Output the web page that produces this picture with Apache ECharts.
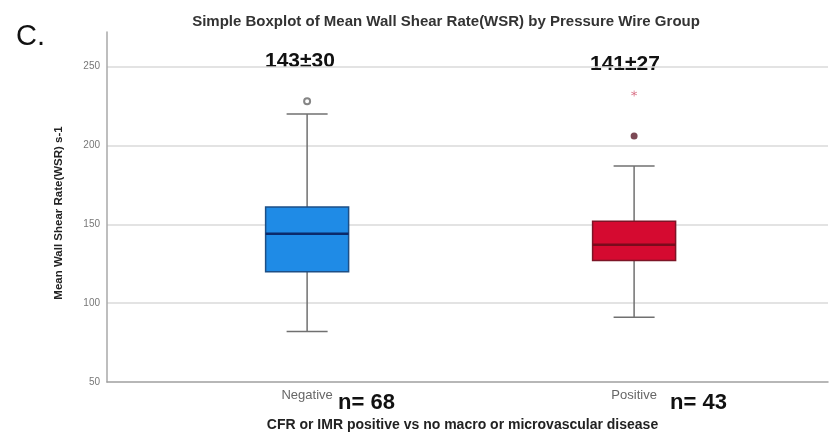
<!DOCTYPE html>
<html>
<head>
<meta charset="utf-8">
<script src="https://cdn.jsdelivr.net/npm/echarts@6/dist/echarts.min.js"></script>
<style>
  html, body { margin: 0; padding: 0; background: #fff; }
  #chart { width: 830px; height: 437px; }
</style>
</head>
<body>
<div id="chart"></div>
<script>
// Groups and five-number summaries (whisker ends, quartiles, median)
var categories = ['Negative', 'Positive'];
var whiskerLow = [82, 91];
var quartile1 = [120, 127];
var medians = [144, 137];
var quartile3 = [161, 152];
var whiskerHigh = [220, 187];

// Points beyond the whiskers: [group index, value]
var outliers = [[0, 228], [1, 206]];
var extremes = [[1, 233]];

// Summary annotations per group
var meanSd = ['143\u00b130', '141\u00b127'];
var groupSizes = ['n= 68', 'n= 43'];

var yTicks = [50, 100, 150, 200, 250];

var FONT = 'Arial, "Liberation Sans", Helvetica, sans-serif';
var BOX_W = 83;
var CAP_W = 41;
var boxColors = [
  { fill: '#1f8be6', stroke: '#1d4f86', median: '#0b2a6a' },
  { fill: '#d50a30', stroke: '#7d1426', median: '#7a0b1c' }
];

var boxData = categories.map(function (c, i) {
  return [i, whiskerLow[i], quartile1[i], medians[i], quartile3[i], whiskerHigh[i]];
});

var chart = echarts.init(document.getElementById('chart'), null, { renderer: 'canvas' });

function renderBox(params, api) {
  var x = api.value(0);
  var lo = api.coord([x, api.value(1)]);
  var q1 = api.coord([x, api.value(2)]);
  var md = api.coord([x, api.value(3)]);
  var q3 = api.coord([x, api.value(4)]);
  var hi = api.coord([x, api.value(5)]);
  var c = boxColors[params.dataIndex];
  var half = BOX_W / 2, capHalf = CAP_W / 2;
  var whisker = { stroke: '#707070', lineWidth: 1.5 };
  return {
    type: 'group',
    children: [
      { type: 'line', shape: { x1: lo[0], y1: lo[1], x2: hi[0], y2: hi[1] }, style: whisker },
      { type: 'line', shape: { x1: lo[0] - capHalf, y1: lo[1], x2: lo[0] + capHalf, y2: lo[1] }, style: whisker },
      { type: 'line', shape: { x1: hi[0] - capHalf, y1: hi[1], x2: hi[0] + capHalf, y2: hi[1] }, style: whisker },
      { type: 'rect', shape: { x: q3[0] - half, y: q3[1], width: BOX_W, height: q1[1] - q3[1] },
        style: { fill: c.fill, stroke: c.stroke, lineWidth: 1.5 } },
      { type: 'line', shape: { x1: md[0] - half, y1: md[1], x2: md[0] + half, y2: md[1] },
        style: { stroke: c.median, lineWidth: 2.5 } }
    ]
  };
}

var asteriskPath = 'path://M-0.5,-5L0.5,-5L0.5,5L-0.5,5Z' +
  'M4.08,-2.93L4.58,-2.07L-4.08,2.93L-4.58,2.07Z' +
  'M4.58,2.07L4.08,2.93L-4.58,-2.07L-4.08,-2.93Z';

var option = {
  backgroundColor: '#fff',
  animation: false,
  title: [
    {
      text: 'Simple Boxplot of Mean Wall Shear Rate(WSR) by Pressure Wire Group',
      left: 441, top: 9, textAlign: 'center',
      textStyle: { fontFamily: FONT, fontSize: 15, fontWeight: 'bold', color: '#333' }
    },
    {
      text: 'C.',
      left: 11, top: 17,
      textStyle: { fontFamily: FONT, fontSize: 29, fontWeight: 'normal', color: '#111' }
    }
  ],
  grid: { left: 107, right: 2, top: 32, bottom: 51 },
  xAxis: {
    type: 'value',
    min: -0.612, max: 1.593,
    name: 'CFR or IMR positive vs no macro or microvascular disease',
    nameLocation: 'middle', nameGap: 36,
    nameTextStyle: { fontFamily: FONT, fontSize: 14, fontWeight: 'bold', color: '#222', padding: [0, 10, 0, 0] },
    axisLine: { onZero: false, lineStyle: { color: '#a0a0a0', width: 1.5 } },
    axisTick: { show: false },
    splitLine: { show: false },
    axisLabel: {
      customValues: [0, 1],
      formatter: function (v) { return categories[Math.round(v)]; },
      fontFamily: FONT, fontSize: 13, color: '#666', margin: 7
    }
  },
  yAxis: {
    type: 'value',
    min: yTicks[0], max: 272, interval: 50,
    name: 'Mean Wall Shear Rate(WSR) s-1',
    nameLocation: 'middle', nameGap: 42,
    nameTextStyle: { fontFamily: FONT, fontSize: 11.5, fontWeight: 'bold', color: '#222', padding: [0, 12, 0, 0] },
    axisLine: { show: true, onZero: false, lineStyle: { color: '#a8a8a8', width: 1.5 } },
    axisTick: { show: false },
    axisLabel: { fontFamily: FONT, fontSize: 10, color: '#777', margin: 7, showMaxLabel: false },
    splitLine: { show: true, showMinLine: false, showMaxLine: false, lineStyle: { color: '#dadada', width: 1.5 } }
  },
  series: [
    {
      type: 'custom',
      renderItem: renderBox,
      data: boxData,
      encode: { x: 0, y: [1, 2, 3, 4, 5] },
      clip: false,
      z: 3
    },
    {
      type: 'scatter',
      data: outliers.filter(function (o) { return o[0] === 0; }),
      symbol: 'emptyCircle',
      symbolSize: 6,
      itemStyle: { color: '#666666', borderWidth: 1.5 },
      z: 4
    },
    {
      type: 'scatter',
      data: outliers.filter(function (o) { return o[0] === 1; }),
      symbol: 'circle',
      symbolSize: 7,
      itemStyle: { color: '#5b1b2b' },
      z: 4
    },
    {
      type: 'scatter',
      data: extremes,
      symbol: asteriskPath,
      symbolSize: 6,
      itemStyle: { color: '#c8304f' },
      z: 4
    }
  ],
  graphic: [
    { type: 'text', left: 265, top: 51, style: { text: meanSd[0], font: 'bold 21px ' + FONT, fill: '#111' } },
    { type: 'text', left: 590, top: 54, style: { text: meanSd[1], font: 'bold 21px ' + FONT, fill: '#111' } },
    { type: 'text', left: 338, top: 392, style: { text: groupSizes[0], font: 'bold 22px ' + FONT, fill: '#111' } },
    { type: 'text', left: 670, top: 392, style: { text: groupSizes[1], font: 'bold 22px ' + FONT, fill: '#111' } }
  ]
};

chart.setOption(option);
</script>
</body>
</html>
